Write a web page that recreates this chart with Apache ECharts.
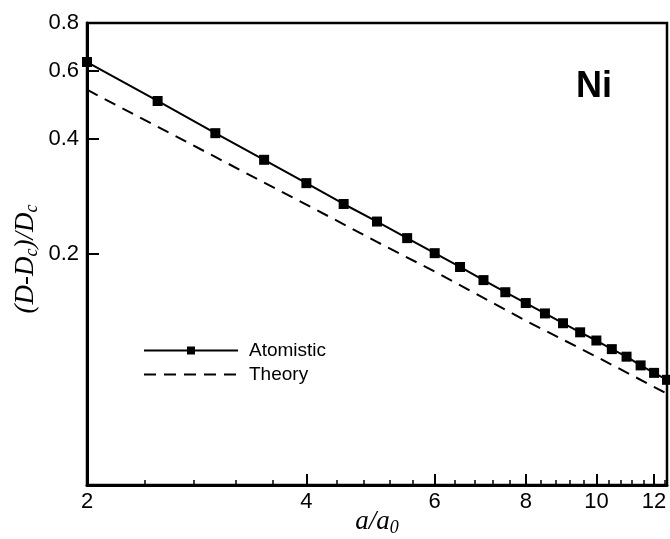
<!DOCTYPE html>
<html>
<head>
<meta charset="utf-8">
<script src="https://cdn.jsdelivr.net/npm/echarts@6/dist/echarts.min.js"></script>
<style>
  html, body { margin: 0; padding: 0; background: #fff; }
  #chart { width: 670px; height: 539px; }
</style>
</head>
<body>
<div id="chart"></div>
<script>
// a/a0 values where the atomistic runs were sampled
const aRatio = [2, 2.5, 3, 3.5, 4, 4.5, 5, 5.5, 6, 6.5, 7, 7.5, 8, 8.5, 9, 9.5, 10, 10.5, 11, 11.5, 12, 12.5];
const atomistic = [0.633, 0.501, 0.413, 0.352, 0.306, 0.270, 0.243, 0.220, 0.201, 0.185, 0.171, 0.159,
  0.149, 0.140, 0.132, 0.125, 0.119, 0.113, 0.108, 0.1025, 0.098, 0.094];

const theoryX = [2, 3, 4, 5, 6, 8, 10, 12.5];
const theory = [0.536, 0.358, 0.269, 0.215, 0.180, 0.134, 0.108, 0.0865];

// ticks
const xMajorTicks = [2, 4, 6, 8, 10, 12];
const xMinorTicks = [2.4, 2.8, 3.2, 3.6, 4.4, 4.8, 5.2, 5.6, 6.4, 6.8, 7.2, 7.6,
  8.4, 8.8, 9.2, 9.6, 10.4, 10.8, 11.2, 11.6, 12.4];
const yTicks = [0.2, 0.4, 0.6, 0.8];

const chart = echarts.init(document.getElementById('chart'));

const serif = '"Liberation Serif", "DejaVu Serif", serif';
const sans = '"Liberation Sans", Arial, sans-serif';

const nameRich = {
  i: { fontFamily: serif, fontStyle: 'italic', fontSize: 27, color: '#000', lineHeight: 30, verticalAlign: 'middle' },
  s: { fontFamily: serif, fontStyle: 'italic', fontSize: 18, color: '#000', lineHeight: 18, verticalAlign: 'bottom' }
};

const option = {
  animation: false,
  backgroundColor: '#fff',
  title: {
    text: 'Ni',
    left: 571,
    top: 64,
    textStyle: { fontFamily: sans, fontSize: 36, fontWeight: 'bold', color: '#000' }
  },
  grid: {
    left: 87, right: 3, top: 23, bottom: 54,
    outerBoundsMode: 'none',
    containLabel: false,
    show: true, borderColor: '#000', borderWidth: 2.5, backgroundColor: 'transparent'
  },
  legend: {
    orient: 'vertical',
    left: 138,
    top: 336,
    itemWidth: 94,
    itemHeight: 10,
    itemGap: 5,
    textStyle: { fontFamily: sans, fontSize: 19, color: '#000', padding: [0, 0, 0, 6] },
    data: ['Atomistic', { name: 'Theory', itemStyle: { opacity: 0 } }]
  },
  xAxis: [
    {
      type: 'log',
      logBase: 10,
      min: 2,
      max: 12.5,
      position: 'bottom',
      name: '{i|a/a}{s|0}',
      nameLocation: 'middle',
      nameGap: 22,
      nameMoveOverlap: false,
      nameTextStyle: { rich: nameRich },
      axisLine: { lineStyle: { color: '#000', width: 3 } },
      axisTick: { inside: true, length: 11, lineStyle: { color: '#000', width: 2 }, customValues: xMajorTicks },
      axisLabel: {
        customValues: xMajorTicks,
        fontFamily: sans, fontSize: 22, color: '#000', margin: 6,
        formatter: v => String(Math.round(v))
      },
      splitLine: { show: false },
      minorTick: { show: false }
    },
    {
      type: 'log',
      logBase: 10,
      min: 2,
      max: 12.5,
      position: 'bottom',
      axisLine: { show: false },
      axisTick: { inside: true, length: 5, lineStyle: { color: '#000', width: 1.5 }, customValues: xMinorTicks },
      axisLabel: { show: false },
      splitLine: { show: false }
    }
  ],
  yAxis: {
    type: 'log',
    logBase: 10,
    min: 0.05,
    max: 0.8,
    name: '{i|(D-D}{s|c}{i|)/D}{s|c}',
    nameLocation: 'middle',
    nameGap: 46,
    nameMoveOverlap: false,
    nameTextStyle: { rich: nameRich, padding: [0, 10, 0, 0] },
    axisLine: { lineStyle: { color: '#000', width: 3 } },
    axisTick: { inside: true, length: 12, lineStyle: { color: '#000', width: 2 }, customValues: yTicks },
    axisLabel: {
      customValues: yTicks,
      fontFamily: sans, fontSize: 22, color: '#000', margin: 8,
      formatter: v => v.toFixed(1)
    },
    splitLine: { show: false },
    minorTick: { show: false }
  },
  series: [
    {
      name: 'Atomistic',
      type: 'line',
      xAxisIndex: 0,
      data: aRatio.map((a, i) => [a, atomistic[i]]),
      symbol: 'rect',
      symbolSize: 10,
      itemStyle: { color: '#000' },
      lineStyle: { color: '#000', width: 2 }
    },
    {
      name: 'Theory',
      type: 'line',
      xAxisIndex: 0,
      data: theoryX.map((a, i) => [a, theory[i]]),
      symbol: 'none',
      itemStyle: { color: '#000' },
      lineStyle: { color: '#000', width: 2, type: [12, 8] }
    }
  ]
};

chart.setOption(option);
</script>
</body>
</html>
